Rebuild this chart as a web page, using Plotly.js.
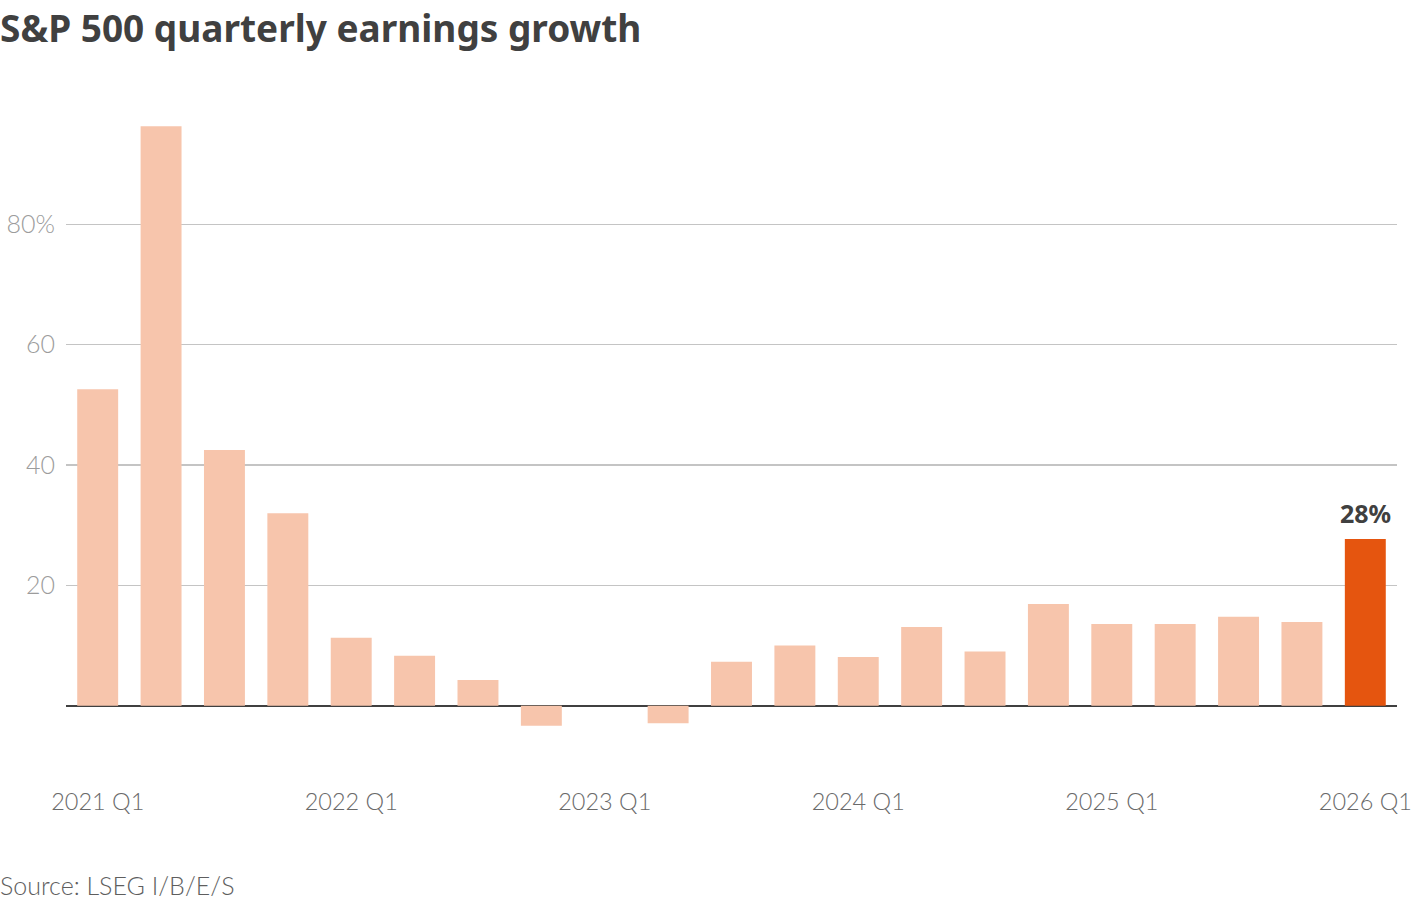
<!DOCTYPE html>
<html>
<head>
<meta charset="utf-8">
<script src="https://cdn.plot.ly/plotly-3.0.1.min.js"></script>
<style>html,body{margin:0;padding:0;background:#fff;}#chart{width:1420px;height:900px;}</style>
</head>
<body>
<div id="chart"></div>
<script>
const quarters = ["2021 Q1","2021 Q2","2021 Q3","2021 Q4","2022 Q1","2022 Q2","2022 Q3","2022 Q4","2023 Q1","2023 Q2","2023 Q3","2023 Q4","2024 Q1","2024 Q2","2024 Q3","2024 Q4","2025 Q1","2025 Q2","2025 Q3","2025 Q4","2026 Q1"];
const growth = [52.6, 96.3, 42.5, 32.0, 11.3, 8.3, 4.3, -3.3, 0.0, -2.9, 7.3, 10.0, 8.1, 13.1, 9.0, 16.9, 13.6, 13.6, 14.8, 13.9, 27.7];
const xTickVals = ["2021 Q1","2022 Q1","2023 Q1","2024 Q1","2025 Q1","2026 Q1"];
const yTickVals = [20, 40, 60, 80];
const yTickText = ["20", "40", "60", "80%"];
const highlightLabel = "28%";

const colors = quarters.map((q, i) => i === quarters.length - 1 ? "#e5550f" : "#f7c5ac");

const trace = {
  type: "bar",
  x: quarters,
  y: growth,
  marker: {color: colors, line: {width: 0}},
  hoverinfo: "x+y"
};

const layout = {
  width: 1420, height: 900,
  margin: {l: 66, r: 23, t: 103.5, b: 115.7},
  paper_bgcolor: "#fff", plot_bgcolor: "#fff",
  bargap: 0.354,
  showlegend: false,
  font: {family: "Lato, 'Open Sans', sans-serif", color: "#777"},
  title: {
    text: "S&P 500 quarterly earnings growth",
    font: {family: "'Noto Sans', 'Open Sans', sans-serif", size: 37, color: "#404040", weight: 700},
    xref: "container", x: 0, xanchor: "left",
    yref: "container", y: 1 - 29/900, yanchor: "middle"
  },
  xaxis: {
    type: "category",
    range: [-0.5, quarters.length - 0.5],
    tickmode: "array",
    tickvals: xTickVals,
    ticktext: xTickVals,
    showgrid: false, zeroline: false, showline: false,
    ticks: "",
    tickfont: {size: 23.5, color: "#6a6a6a", weight: 300},
    ticklabelstandoff: 1
  },
  yaxis: {
    range: [-13, 100],
    tickmode: "array",
    tickvals: yTickVals,
    ticktext: yTickText,
    showgrid: true, gridcolor: "#c4c4c4", gridwidth: 1.5,
    zeroline: true, zerolinecolor: "#404040", zerolinewidth: 2.5,
    showline: false, ticks: "",
    tickfont: {size: 25, color: "#9c9c9c", weight: 300},
    ticklabelstandoff: 10
  },
  annotations: [
    {
      x: quarters[quarters.length - 1], y: growth[growth.length - 1],
      xref: "x", yref: "y",
      text: "<b>" + highlightLabel + "</b>",
      showarrow: false, yanchor: "bottom", xanchor: "center", yshift: 7,
      font: {family: "'Noto Sans', 'Open Sans', sans-serif", size: 25, color: "#404040"}
    },
    {
      x: -66/1331, y: (784.3 - 885) / 680.8,
      xref: "paper", yref: "paper",
      text: "Source: LSEG I/B/E/S",
      showarrow: false, xanchor: "left", yanchor: "middle", xshift: -2,
      font: {family: "Lato, 'Open Sans', sans-serif", size: 25, color: "#5e5e5e", weight: 300}
    }
  ]
};

Plotly.newPlot("chart", [trace], layout, {displayModeBar: false, staticPlot: true});
</script>
</body>
</html>
